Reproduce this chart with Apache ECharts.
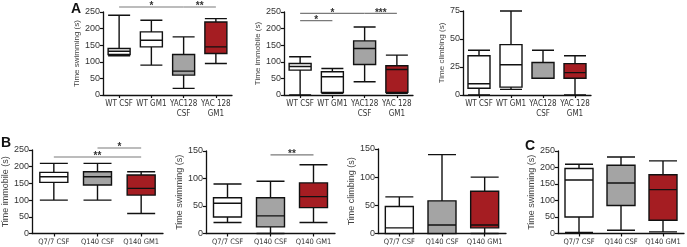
<!DOCTYPE html>
<html><head><meta charset="utf-8">
<script src="https://cdn.jsdelivr.net/npm/echarts@6/dist/echarts.min.js"></script>
<style>html,body{margin:0;padding:0;background:#fff}#c{width:687px;height:247px}</style>
</head><body><div id="c"></div>
<script>
// ---- data ----
const catsA = ['WT CSF', 'WT GM1', 'YAC128\nCSF', 'YAC 128\nGM1'];
const catsB = ['Q7/7 CSF', 'Q140 CSF', 'Q140 GM1'];
// [min, Q1, median, Q3, max]
const a1Swimming = [[118,122,132,140,240],[90,145,165,190,225],[20,60,72,122,175],[95,125,145,220,230]];
const a2Immobile = [[0,75,86,95,115],[5,8,55,70,80],[40,92,140,163,205],[5,8,77,88,120]];
const a3Climbing = [[0,6,10,35,40],[5,7,27,45,75],[15,15,15,29,40],[0,15,20,28,35]];
const b1Immobile = [[100,153,170,183,210],[100,145,170,185,210],[60,115,135,175,185]];
const b2Swimming = [[20,30,55,65,90],[0,12,32,65,95],[20,47,67,92,125]];
const b3Climbing = [[0,0,10,48,65],[0,0,15,58,140],[0,10,15,75,100]];
const cSwimming  = [[3,50,162,197,210],[10,85,153,207,232],[5,40,133,178,220]];
// significance bars: [fromIndex, toIndex, yValue, label]
const sigA1 = [[0,2,265,'*'],[2,3,265,'**']];
const sigA2 = [[0,2,246,'*'],[2,3,246,'***'],[0,1,224,'*']];
const sigB1 = [[1,2,256,'*'],[0,2,229,'**']];
const sigB2 = [[1,2,143,'**']];
const axisMaxA = [250, 250, 75];
const axisMaxB = [250, 150, 150, 250];
const tickStepA = [50, 50, 25];
const tickStepB = [50, 50, 50, 50];
const namesA = ['Time swimming (s)', 'Time immobile (s)', 'Time climbing (s)'];
const namesB = ['Time immobile (s)', 'Time swimming (s)', 'Time climbing (s)', 'Time swimming (s)'];

// ---- styling ----
const WHITE = '#ffffff', GRAY = '#a4a4a4', RED = '#a51d22';
const colorsA = [WHITE, WHITE, GRAY, RED];
const colorsB = [WHITE, GRAY, RED];
const FONT = '"Liberation Sans",Arial,sans-serif';
const NARROW = '"Liberation Sans Narrow","DejaVu Sans Condensed",sans-serif';

const panels = [
  {cats: catsA, data: a1Swimming, colors: colorsA, max: axisMaxA[0], step: tickStepA[0], name: namesA[0], sig: sigA1,
   grid: {left: 103, top: 12, width: 129, height: 83}, bw: 22, xl: 8, nameSize: 8, gap: 20},
  {cats: catsA, data: a2Immobile, colors: colorsA, max: axisMaxA[1], step: tickStepA[1], name: namesA[1], sig: sigA2,
   grid: {left: 284, top: 12, width: 129, height: 83}, bw: 22, xl: 8, nameSize: 8, gap: 20},
  {cats: catsA, data: a3Climbing, colors: colorsA, max: axisMaxA[2], step: tickStepA[2], name: namesA[2], sig: [],
   grid: {left: 463, top: 11, width: 128, height: 84}, bw: 22, xl: 8, nameSize: 8, gap: 15},
  {cats: catsB, data: b1Immobile, colors: colorsB, max: axisMaxB[0], step: tickStepB[0], name: namesB[0], sig: sigB1,
   grid: {left: 32, top: 150, width: 131, height: 85}, bw: 28, xl: 7.5, nameSize: 9, gap: 20},
  {cats: catsB, data: b2Swimming, colors: colorsB, max: axisMaxB[1], step: tickStepB[1], name: namesB[1], sig: sigB2,
   grid: {left: 206, top: 151, width: 129, height: 84}, bw: 28, xl: 7.5, nameSize: 9, gap: 20},
  {cats: catsB, data: b3Climbing, colors: colorsB, max: axisMaxB[2], step: tickStepB[2], name: namesB[2], sig: [],
   grid: {left: 378, top: 149, width: 128, height: 85}, bw: 28, xl: 7.5, nameSize: 9, gap: 20},
  {cats: catsB, data: cSwimming, colors: colorsB, max: axisMaxB[3], step: tickStepB[3], name: namesB[3], sig: [],
   grid: {left: 558, top: 151, width: 126, height: 84}, bw: 28, xl: 7.5, nameSize: 9, gap: 20}
];

const grids = [], xAxes = [], yAxes = [], series = [];
const AX = {lineStyle: {color: '#111', width: 1.3}};
panels.forEach((p, i) => {
  grids.push(Object.assign({containLabel: false}, p.grid));
  xAxes.push({
    type: 'category', gridIndex: i, data: p.cats, boundaryGap: true,
    axisLine: AX, axisTick: {show: true, alignWithLabel: true, length: 3, lineStyle: {color: '#111', width: 1.2}},
    axisLabel: {fontFamily: NARROW, fontSize: p.xl, color: '#333', margin: 4, lineHeight: p.xl + 2, interval: 0},
    splitLine: {show: false}
  });
  yAxes.push({
    type: 'value', gridIndex: i, min: 0, max: p.max, interval: p.step,
    name: p.name, nameLocation: 'middle', nameGap: p.gap, nameRotate: 90,
    nameTextStyle: {fontFamily: FONT, fontSize: p.nameSize, color: '#444'},
    axisLine: {show: true, lineStyle: {color: '#111', width: 1.3}},
    axisTick: {show: true, length: 3, lineStyle: {color: '#111', width: 1.2}},
    axisLabel: {fontFamily: FONT, fontSize: 9, color: '#333', margin: 3},
    splitLine: {show: false}
  });
  series.push({
    type: 'boxplot', xAxisIndex: i, yAxisIndex: i,
    boxWidth: [p.bw, p.bw],
    itemStyle: {borderColor: '#111', borderWidth: 1.4},
    data: p.data.map((v, k) => ({value: v, itemStyle: {color: p.colors[k], borderColor: '#111', borderWidth: 1.4}}))
  });
});

const chart = echarts.init(document.getElementById('c'), null, {renderer: 'canvas'});
chart.setOption({
  animation: false,
  backgroundColor: '#fff',
  grid: grids, xAxis: xAxes, yAxis: yAxes, series: series
});

// significance bars, positioned through the axes' own scales
const graphics = [
  {type: 'text', left: 71, top: 2, style: {text: 'A', fontSize: 14, fontWeight: 'bold', fill: '#111', fontFamily: FONT}},
  {type: 'text', left: 1, top: 136, style: {text: 'B', fontSize: 14, fontWeight: 'bold', fill: '#111', fontFamily: FONT}},
  {type: 'text', left: 525, top: 139, style: {text: 'C', fontSize: 14, fontWeight: 'bold', fill: '#111', fontFamily: FONT}}
];
panels.forEach((p, i) => {
  p.sig.forEach(s => {
    const a = chart.convertToPixel({gridIndex: i}, [s[0], s[2]]);
    const b = chart.convertToPixel({gridIndex: i}, [s[1], s[2]]);
    graphics.push({type: 'line', silent: true,
      shape: {x1: a[0], y1: a[1], x2: b[0], y2: b[1]},
      style: {stroke: '#7a7a7a', lineWidth: 1.2}});
    graphics.push({type: 'text', silent: true,
      x: (a[0] + b[0]) / 2, y: a[1] - 0.5,
      style: {text: s[3], fill: '#333', fontSize: 10, fontWeight: 'bold', fontFamily: FONT,
              align: 'center', verticalAlign: 'middle'}});
  });
});
chart.setOption({graphic: graphics});
</script></body></html>
